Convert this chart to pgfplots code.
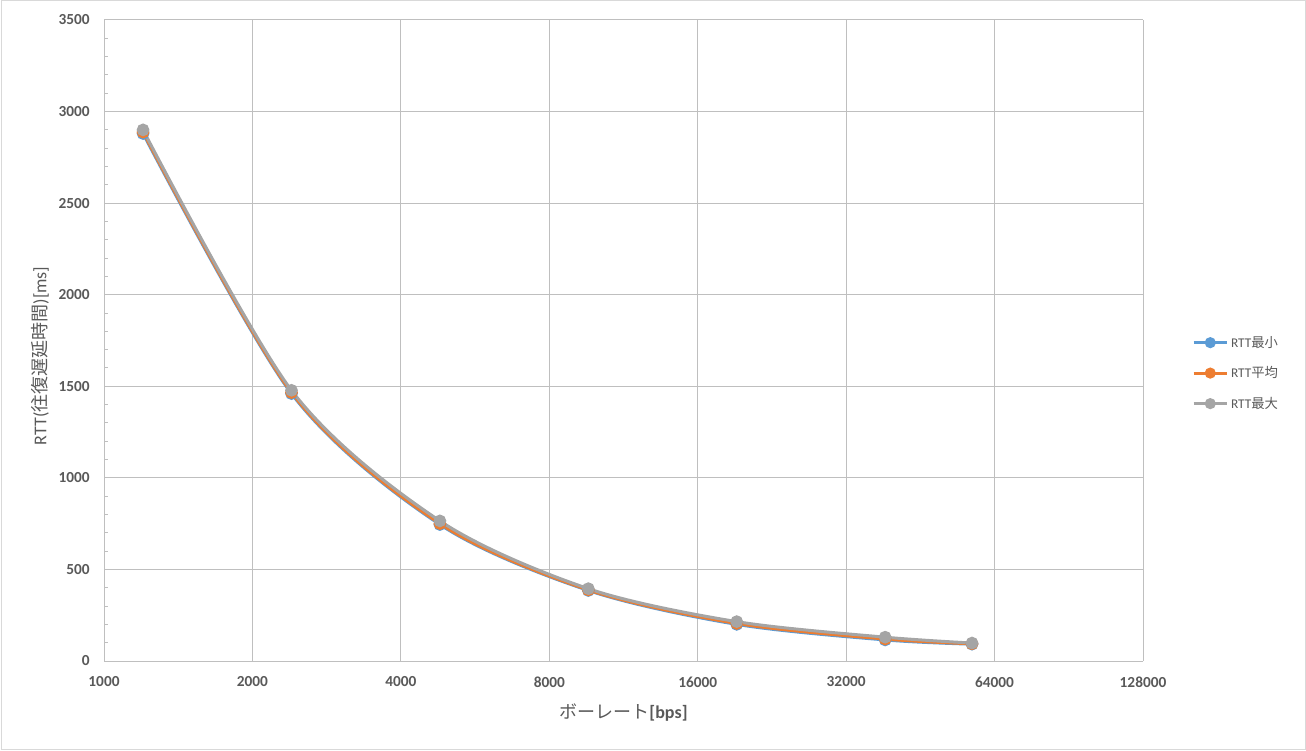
\documentclass[border=0pt]{standalone}
\usepackage{fontspec}
\setmainfont{Carlito}
\newfontfamily\cjk{Noto Sans CJK JP}
\usepackage{pgfplots}
\pgfplotsset{compat=1.18}
\definecolor{cmin}{HTML}{5B9BD5}
\definecolor{cavg}{HTML}{ED7D31}
\definecolor{cmax}{HTML}{A5A5A5}
\definecolor{grid}{HTML}{D9D9D9}
\definecolor{axl}{HTML}{BFBFBF}
\definecolor{txt}{HTML}{595959}
\begin{document}
\begin{tikzpicture}
\useasboundingbox (0,0) rectangle (979.5pt,562.5pt);
\draw[grid,line width=0.75pt] (0.75pt,0.75pt) rectangle (978.75pt,561.75pt);
\begin{axis}[
  at={(78pt,66.75pt)}, anchor=south west,
  scale only axis, width=779.25pt, height=480.75pt,
  xmode=log, log basis x=2,
  xmin=1000, xmax=128000, ymin=0, ymax=3500,
  xtick={1000,2000,4000,8000,16000,32000,64000,128000},
  xticklabels={1000,2000,4000,8000,16000,32000,64000,128000},
  ytick={0,500,1000,1500,2000,2500,3000,3500},
  yticklabels={0,500,1000,1500,2000,2500,3000,3500},
  minor ytick={100,200,300,400,600,700,800,900,1100,1200,1300,1400,1600,1700,1800,1900,2100,2200,2300,2400,2600,2700,2800,2900,3100,3200,3300,3400},
  xminorticks=false,
  grid=major, major grid style={grid,line width=0.75pt},
  axis x line*=bottom, axis y line*=left,
  axis line style={axl,line width=0.75pt,-},
  major tick length=0pt, minor tick length=3pt,
  minor tick style={axl,line width=0.75pt},
  tick align=inside,
  ticklabel style={font=\bfseries\fontsize{11.5}{12}\selectfont, text=txt, inner sep=0pt},
  yticklabel style={anchor=east, xshift=-10.5pt},
  xticklabel style={anchor=center, yshift=-15.75pt},
  xlabel={{\cjk ボーレート}\bfseries[bps]},
  ylabel={RTT({\cjk 往復遅延時間})[ms]},
  label style={font=\fontsize{13.5}{15}\selectfont, text=txt},
  xlabel style={at={(axis description cs:0.5,-0.0811)}, anchor=center},
  ylabel style={at={(axis description cs:-0.0616,0.476)}, anchor=center},
  legend style={draw=none, fill=none, at={(rel axis cs:1.047,0.449)}, anchor=west,
    inner sep=0pt, row sep=9pt, font=\fontsize{10}{11}\selectfont, text=txt},
  legend cell align=left,
  legend image code/.code={\draw[#1,mark size=3pt,mark repeat=2,mark phase=2] plot coordinates {(0pt,0pt) (12.5pt,0pt) (25pt,0pt)};},
  every axis plot/.append style={line width=2.25pt, smooth, mark=*, mark size=3.6pt},
]
\addplot[cmin, mark options={solid,fill=cmin,draw=cmin}] coordinates {
 (1200,2880) (2400,1460) (4800,745) (9600,385) (19200,200) (38400,115) (57600,92)};
\addlegendentry{RTT{\cjk 最小}}
\addplot[cavg, mark options={solid,fill=cavg,draw=cavg}] coordinates {
 (1200,2888) (2400,1466) (4800,750) (9600,388) (19200,205) (38400,120) (57600,94)};
\addlegendentry{RTT{\cjk 平均}}
\addplot[cmax, mark options={solid,fill=cmax,draw=cmax}] coordinates {
 (1200,2900) (2400,1478) (4800,765) (9600,395) (19200,215) (38400,130) (57600,98)};
\addlegendentry{RTT{\cjk 最大}}
\end{axis}
\end{tikzpicture}
\end{document}
